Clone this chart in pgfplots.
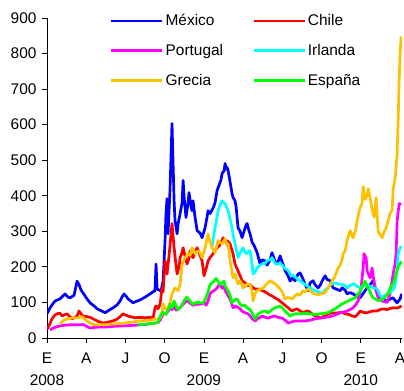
\documentclass[border=0pt]{standalone}
\usepackage{fontspec}
\setmainfont{Liberation Sans}
\usepackage{pgfplots}
\pgfplotsset{compat=1.18}

\definecolor{cMex}{RGB}{0,0,255}
\definecolor{cChi}{RGB}{255,0,0}
\definecolor{cPor}{RGB}{255,0,255}
\definecolor{cIrl}{RGB}{0,255,255}
\definecolor{cGre}{RGB}{255,192,0}
\definecolor{cEsp}{RGB}{0,255,0}

\begin{document}
\begin{tikzpicture}
\begin{axis}[
  scale only axis,
  width=355bp, height=320bp,
  xmin=0, xmax=27.15, ymin=0, ymax=900,
  axis lines=left,
  axis line style={-, line width=0.8bp, black},
  xtick={0,3,...,27},
  xticklabels={{E\\[5bp]2008},A,J,O,{E\\[5bp]2009},A,J,O,{E\\[5bp]2010},A},
  ytick={0,100,...,900},
  tick align=outside,
  major tick length=5bp,
  tick style={black, line width=0.8bp},
  ticklabel style={font=\fontsize{15.5}{17}\selectfont},
  xticklabel style={align=center, anchor=north, yshift=-6bp},
  yticklabel style={xshift=-2bp},
  /pgf/number format/assume math mode=true,
  legend columns=2,
  legend cell align=left,
  legend style={draw=none, fill=none, at={(0.168,1.024)}, anchor=north west,
    font=\fontsize{15.5}{17}\selectfont, row sep=13bp,
    /tikz/every even column/.append style={column sep=27bp}},
  legend image code/.code={\draw[#1, line width=2.8bp] (0bp,0bp) -- (51bp,0bp);},
  every axis plot/.append style={line width=2.7bp, line join=round, mark=none},
]
% Mexico
\addplot[cMex] coordinates {
(0.00,68) (0.23,85) (0.61,104) (0.99,110) (1.38,124) (1.61,115) (1.76,113) (2.07,120)
(2.30,160) (2.45,150) (2.60,135) (2.75,127) (3.06,110) (3.29,99) (3.67,88) (3.83,82)
(4.13,77) (4.44,71) (4.74,78) (5.05,85) (5.36,93) (5.59,104) (5.74,115) (5.89,124)
(6.04,118) (6.20,110) (6.58,99) (6.89,104) (7.12,107) (7.50,115) (7.88,124) (8.11,130)
(8.26,133) (8.34,208) (8.42,138) (8.57,135) (8.72,133) (8.88,160) (9.03,274) (9.10,350)
(9.18,392) (9.26,293) (9.41,420) (9.56,603) (9.72,386) (9.79,330) (9.95,293) (10.02,320)
(10.18,350) (10.33,380) (10.41,443) (10.48,400) (10.63,339) (10.79,380) (10.86,409) (11.02,370)
(11.09,358) (11.17,386) (11.32,340) (11.48,302) (11.71,295) (11.86,282) (12.01,300) (12.09,310)
(12.24,340) (12.32,358) (12.47,350) (12.70,365) (12.85,380) (13.01,415) (13.16,430) (13.31,445)
(13.39,463) (13.54,470) (13.62,491) (13.70,475) (13.77,480) (13.85,471) (14.00,440) (14.15,406)
(14.23,395) (14.38,386) (14.46,370) (14.61,310) (14.77,300) (14.92,282) (15.07,300) (15.23,318)
(15.30,322) (15.46,300) (15.53,293) (15.68,270) (15.84,260) (15.91,254) (16.07,240) (16.30,208)
(16.45,220) (16.68,217) (16.83,205) (17.06,220) (17.21,240) (17.44,215) (17.60,208) (17.83,231)
(17.98,215) (18.21,189) (18.44,175) (18.59,160) (18.75,169) (18.97,161) (19.20,180) (19.36,183)
(19.59,165) (19.74,150) (19.97,133) (20.12,155) (20.35,161) (20.50,150) (20.73,141) (20.89,148)
(21.04,160) (21.27,175) (21.42,165) (21.65,161) (21.88,141) (22.11,138) (22.42,133) (22.57,141)
(22.80,135) (22.95,124) (23.18,128) (23.41,124) (23.64,118) (23.95,113) (24.18,125) (24.48,141)
(24.71,150) (24.94,161) (25.17,135) (25.48,113) (25.71,108) (26.01,104) (26.24,110) (26.47,113)
(26.63,105) (26.78,99) (27.01,110) (27.12,124)
};
\addlegendentry{México}
% Chile
\addplot[cChi] coordinates {
(0.00,25) (0.23,40) (0.38,54) (0.61,65) (0.77,68) (0.99,70) (1.15,62) (1.38,66)
(1.53,68) (1.76,60) (1.91,54) (2.14,58) (2.30,62) (2.45,76) (2.60,68) (2.75,62)
(3.06,60) (3.29,58) (3.52,54) (3.83,48) (4.06,45) (4.28,42) (4.59,44) (4.82,46)
(5.05,48) (5.36,53) (5.59,60) (5.81,68) (6.04,64) (6.35,60) (6.73,57) (7.12,58)
(7.50,57) (7.88,58) (8.11,56) (8.26,85) (8.34,90) (8.49,82) (8.65,95) (8.80,141)
(8.88,130) (9.03,217) (9.18,180) (9.33,230) (9.56,322) (9.72,254) (9.79,230) (9.95,180)
(10.10,200) (10.18,226) (10.33,240) (10.41,254) (10.56,230) (10.71,208) (10.86,225) (10.94,245)
(11.09,230) (11.17,226) (11.32,240) (11.48,254) (11.63,240) (11.86,217) (12.01,175) (12.17,195)
(12.32,217) (12.47,226) (12.70,237) (12.85,245) (13.01,254) (13.24,262) (13.47,282) (13.62,270)
(13.77,274) (13.93,268) (14.00,265) (14.23,237) (14.38,208) (14.61,189) (14.77,175) (14.92,161)
(15.15,155) (15.38,147) (15.53,150) (15.76,141) (15.91,138) (16.14,138) (16.45,133) (16.68,130)
(16.91,124) (17.21,118) (17.44,113) (17.67,108) (17.98,99) (18.21,92) (18.44,85) (18.59,80)
(18.75,76) (18.97,80) (19.13,82) (19.36,76) (19.59,71) (19.82,75) (19.97,76) (20.20,70)
(20.50,62) (20.73,60) (20.89,56) (21.12,60) (21.27,62) (21.50,68) (21.81,71) (22.04,70)
(22.26,71) (22.57,72) (22.80,68) (23.11,66) (23.34,62) (23.57,60) (23.80,68) (23.95,76)
(24.18,72) (24.48,71) (24.71,74) (24.94,76) (25.25,76) (25.48,80) (25.71,82) (26.01,80)
(26.24,83) (26.47,85) (26.78,84) (27.01,88) (27.12,90)
};
\addlegendentry{Chile}
% Portugal
\addplot[cPor] coordinates {
(0.23,23) (0.38,26) (0.61,30) (0.99,34) (1.38,36) (1.76,37) (2.14,37) (2.52,37)
(2.75,38) (3.06,32) (3.29,28) (3.67,30) (4.06,31) (4.59,31) (5.20,33) (5.81,34)
(6.35,35) (6.73,36) (7.12,37) (7.50,38) (7.88,40) (8.26,42) (8.49,44) (8.65,50)
(8.80,62) (8.95,70) (9.10,68) (9.26,75) (9.41,85) (9.56,80) (9.72,90) (9.87,78)
(10.02,80) (10.18,85) (10.41,95) (10.56,100) (10.71,105) (10.94,98) (11.17,92) (11.40,95)
(11.63,95) (11.86,96) (12.01,100) (12.17,92) (12.32,105) (12.47,124) (12.62,130) (12.85,135)
(13.01,141) (13.16,150) (13.24,152) (13.39,140) (13.47,145) (13.62,135) (13.85,118) (14.00,110)
(14.23,85) (14.46,90) (14.77,82) (14.92,75) (15.15,71) (15.38,68) (15.53,62) (15.68,55)
(15.91,48) (16.14,55) (16.45,62) (16.68,58) (16.91,56) (17.21,60) (17.44,62) (17.67,58)
(17.98,56) (18.21,50) (18.44,42) (18.67,45) (18.97,48) (19.36,48) (19.74,48) (20.12,50)
(20.50,54) (20.89,56) (21.27,58) (21.65,60) (22.04,65) (22.42,71) (22.80,74) (22.95,76)
(23.18,80) (23.41,85) (23.64,95) (23.80,104) (24.02,141) (24.18,197) (24.25,237) (24.41,225)
(24.48,189) (24.71,169) (24.87,197) (24.94,175) (25.10,141) (25.33,113) (25.48,108) (25.63,104)
(25.86,102) (26.01,100) (26.24,124) (26.47,180) (26.63,210) (26.70,237) (26.78,330) (26.93,378)
(27.08,375)
};
\addlegendentry{Portugal}
% Irlanda
\addplot[cIrl] coordinates {
(12.62,254) (12.70,274) (12.85,310) (13.01,340) (13.08,358) (13.24,375) (13.39,386) (13.54,380)
(13.62,378) (13.77,365) (13.85,358) (14.00,335) (14.15,310) (14.23,290) (14.38,265) (14.46,250)
(14.61,226) (14.77,240) (15.00,254) (15.15,240) (15.30,237) (15.46,245) (15.53,245) (15.68,210)
(15.76,180) (15.91,185) (16.07,197) (16.30,205) (16.45,208) (16.68,210) (16.83,217) (17.06,220)
(17.21,226) (17.44,210) (17.60,208) (17.83,210) (17.98,205) (18.21,195) (18.44,190) (18.59,180)
(18.82,175) (18.97,172) (19.20,165) (19.36,160) (19.59,155) (19.74,150) (19.97,145) (20.20,140)
(20.35,135) (20.50,133) (20.73,130) (20.89,128) (21.04,124) (21.27,135) (21.50,141) (21.65,148)
(21.81,152) (22.04,155) (22.26,152) (22.42,152) (22.57,150) (22.80,148) (22.95,141) (23.18,148)
(23.41,152) (23.57,150) (23.72,145) (23.95,141) (24.18,148) (24.48,150) (24.71,145) (24.94,141)
(25.17,140) (25.33,133) (25.48,120) (25.63,113) (25.79,118) (26.01,124) (26.24,128) (26.40,133)
(26.55,140) (26.63,152) (26.78,190) (26.86,237) (27.01,254) (27.08,258)
};
\addlegendentry{Irlanda}
% Grecia
\addplot[cGre] coordinates {
(0.99,40) (1.22,48) (1.53,54) (1.76,55) (1.99,57) (2.30,56) (2.52,58) (2.68,60)
(2.83,55) (3.06,48) (3.29,42) (3.52,38) (3.67,37) (4.06,37) (4.59,38) (5.20,40)
(5.81,42) (6.35,44) (7.12,48) (7.88,50) (8.42,54) (8.65,56) (8.80,71) (8.88,96)
(9.03,82) (9.26,85) (9.41,100) (9.56,124) (9.79,141) (10.02,133) (10.18,150) (10.33,208)
(10.56,226) (10.79,237) (10.94,232) (11.09,254) (11.32,237) (11.55,245) (11.71,240) (11.86,226)
(12.09,253) (12.32,293) (12.47,270) (12.62,254) (12.85,240) (13.08,274) (13.24,268) (13.39,265)
(13.62,279) (13.77,260) (13.85,265) (14.00,217) (14.23,169) (14.38,180) (14.61,152) (14.77,161)
(15.00,141) (15.23,150) (15.53,152) (15.68,130) (15.76,104) (15.91,125) (16.07,133) (16.30,137)
(16.53,141) (16.76,150) (17.06,161) (17.21,158) (17.44,152) (17.67,145) (17.83,138) (17.98,130)
(18.21,110) (18.36,113) (18.59,113) (18.75,110) (18.97,118) (19.13,124) (19.36,120) (19.59,133)
(19.74,130) (19.97,138) (20.12,133) (20.35,125) (20.50,124) (20.73,122) (21.04,124) (21.27,128)
(21.50,141) (21.65,150) (21.81,161) (22.04,175) (22.26,197) (22.42,205) (22.57,220) (22.65,237)
(22.80,245) (22.95,274) (23.18,302) (23.41,282) (23.57,300) (23.72,330) (23.95,367) (24.10,380)
(24.18,426) (24.33,390) (24.48,400) (24.56,420) (24.71,395) (24.87,360) (25.02,340) (25.17,395)
(25.25,340) (25.33,300) (25.48,290) (25.63,282) (25.79,300) (25.94,310) (26.09,330) (26.24,350)
(26.40,360) (26.47,420) (26.63,450) (26.70,480) (26.78,520) (26.86,620) (26.93,720) (27.01,800)
(27.08,848)
};
\addlegendentry{Grecia}
% Espana
\addplot[cEsp] coordinates {
(6.96,37) (7.27,38) (7.57,39) (7.88,40) (8.26,42) (8.49,45) (8.65,60) (8.80,72)
(8.95,70) (9.10,66) (9.26,80) (9.41,95) (9.56,85) (9.72,104) (9.87,90) (10.02,80)
(10.18,85) (10.41,100) (10.56,110) (10.71,115) (10.86,108) (11.02,100) (11.17,95) (11.40,100)
(11.63,100) (11.86,98) (12.01,102) (12.17,115) (12.32,130) (12.47,150) (12.62,155) (12.78,160)
(12.93,168) (13.08,160) (13.24,150) (13.39,155) (13.54,160) (13.62,147) (13.85,133) (14.00,120)
(14.15,99) (14.38,108) (14.54,110) (14.77,95) (14.92,90) (15.15,92) (15.30,85) (15.53,80)
(15.68,71) (15.91,54) (16.14,68) (16.45,74) (16.68,76) (16.91,71) (17.21,80) (17.44,85)
(17.83,90) (18.06,82) (18.21,76) (18.59,62) (18.82,66) (18.97,68) (19.36,68) (19.74,69)
(20.12,68) (20.50,66) (20.89,68) (21.27,70) (21.50,71) (21.81,78) (22.04,82) (22.42,92)
(22.57,96) (22.80,100) (23.03,104) (23.34,110) (23.57,112) (23.80,125) (23.95,130) (24.18,150)
(24.33,160) (24.48,145) (24.71,130) (24.87,115) (25.10,110) (25.33,105) (25.63,108) (25.86,115)
(26.09,125) (26.24,140) (26.40,150) (26.55,160) (26.70,180) (26.86,200) (27.01,210) (27.12,215)
};
\addlegendentry{España}
\end{axis}
\pgfresetboundingbox
\path[use as bounding box] (-47bp,-53bp) rectangle (357bp,338bp);
\end{tikzpicture}
\end{document}
